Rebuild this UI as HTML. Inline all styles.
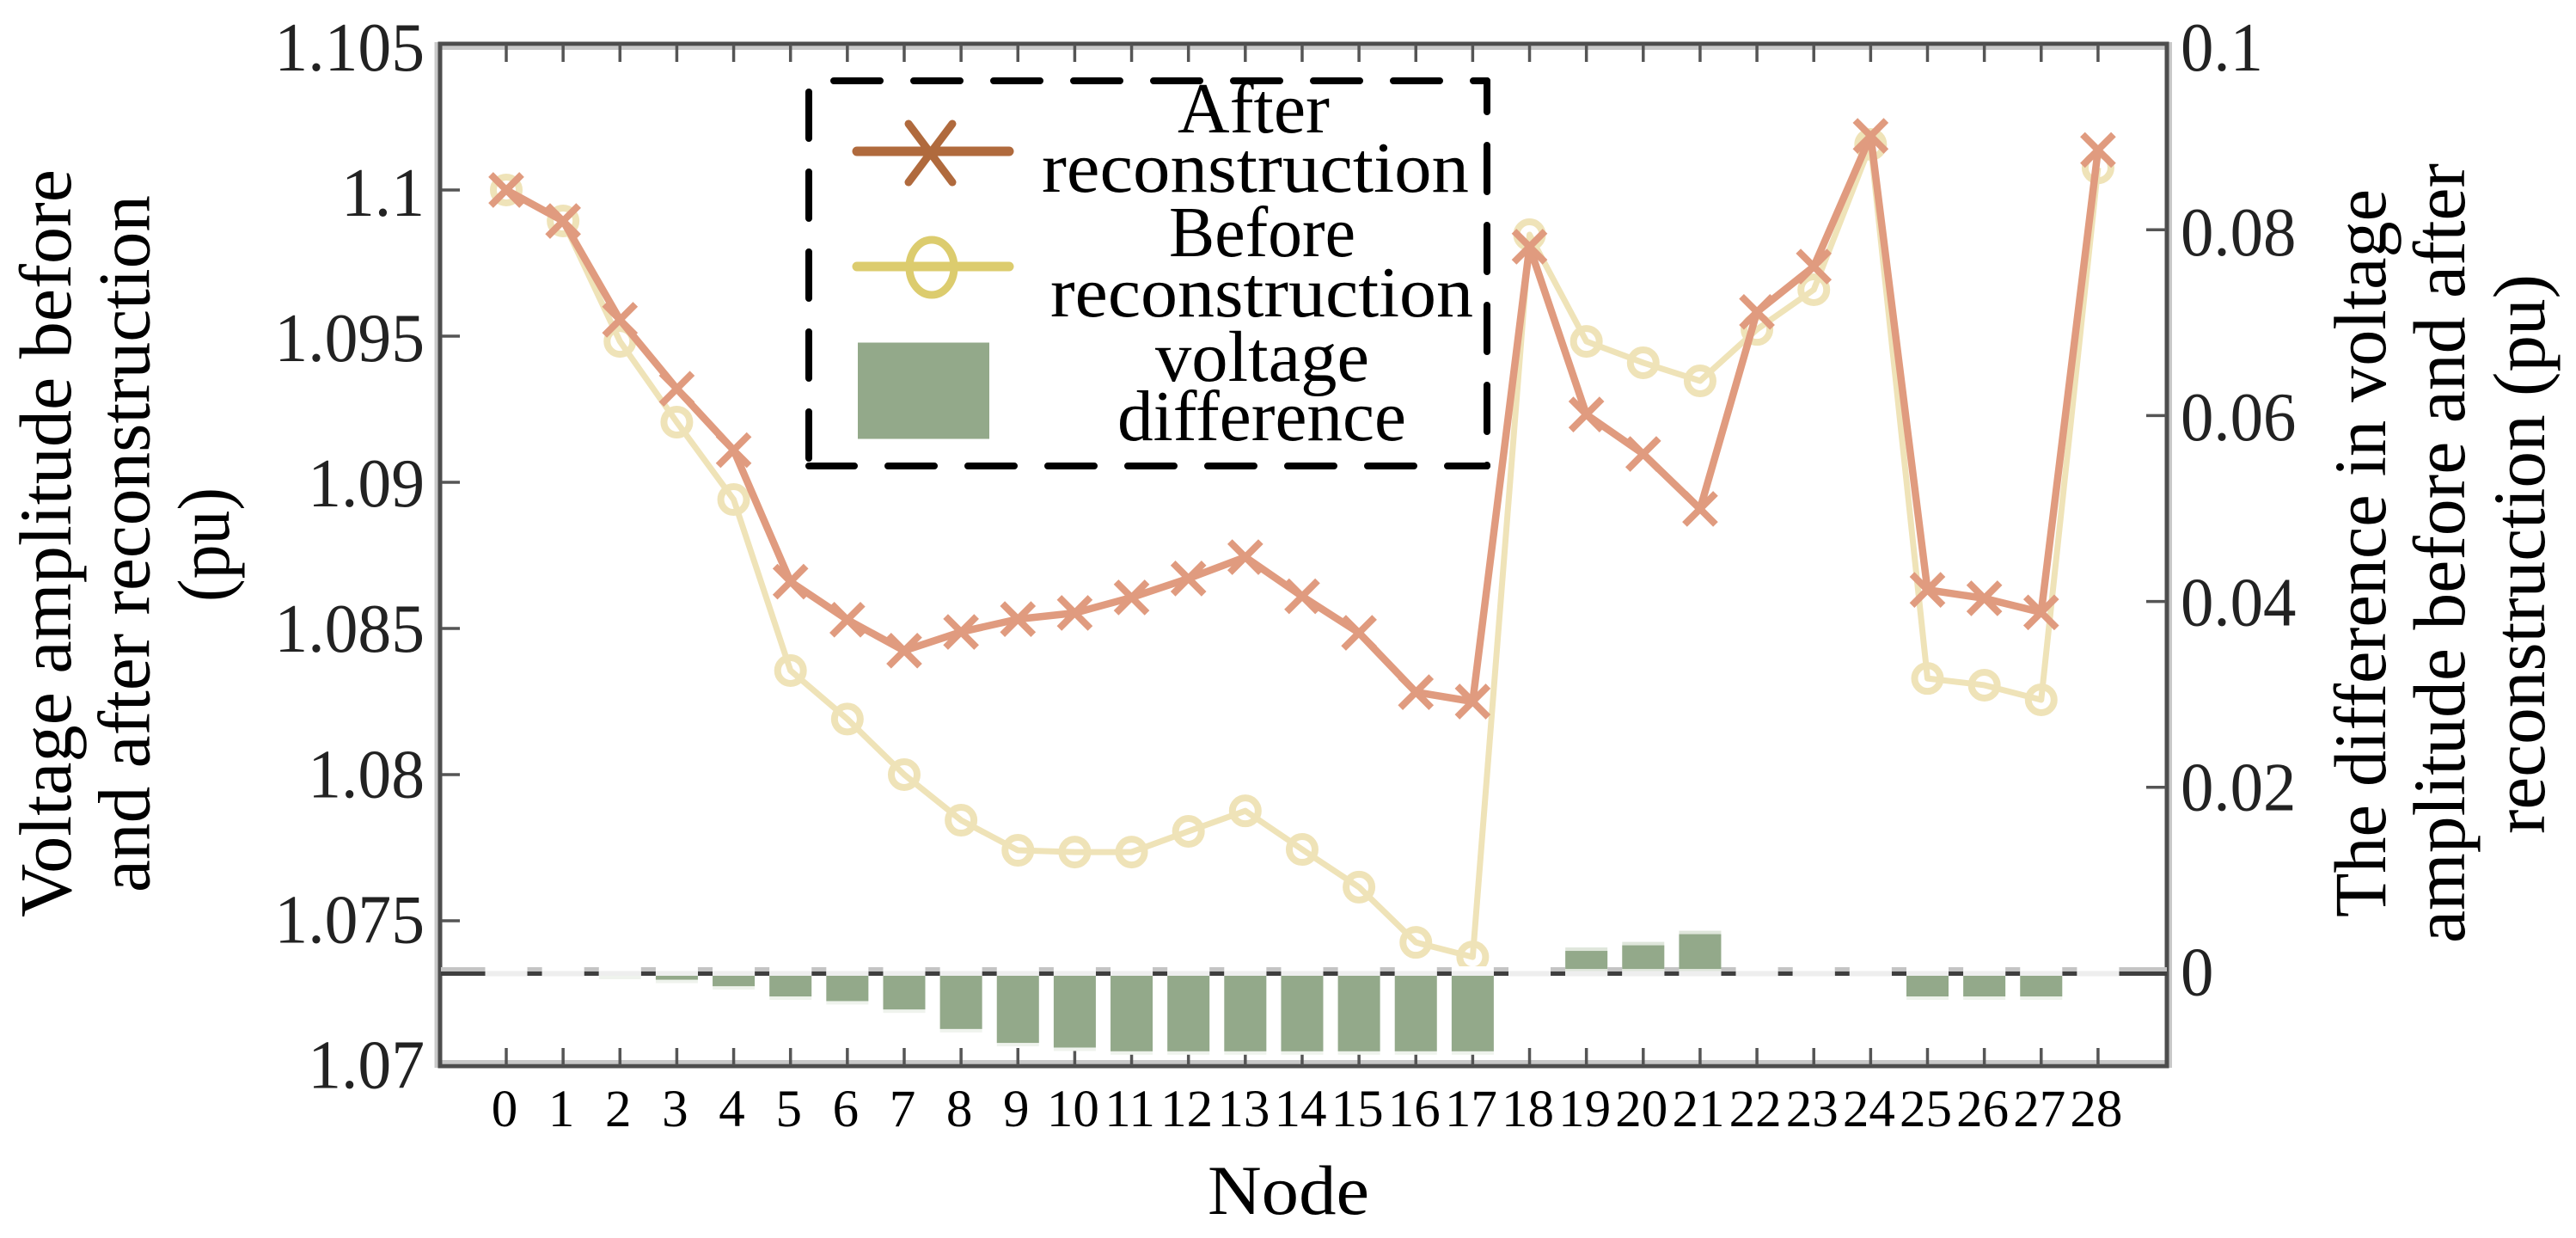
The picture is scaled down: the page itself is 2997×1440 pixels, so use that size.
<!DOCTYPE html>
<html lang="en">
<head>
<meta charset="utf-8">
<title>Voltage amplitude before and after reconstruction</title>
<style>
  html, body { margin: 0; padding: 0; background: #fff; }
  body { width: 2997px; height: 1440px; overflow: hidden; }
  svg { display: block; }
  text { font-family: "Liberation Serif", serif; fill: #000; }
</style>
</head>
<body>
<svg id="chart" xmlns="http://www.w3.org/2000/svg" width="2997" height="1440" viewBox="0 0 2997 1440">
  <rect x="0" y="0" width="2997" height="1440" fill="#ffffff"/>

  <g id="frame">
    <path d="M507.5 49V1242M509 56H2521M509 1235H2521M2525 49V1242" fill="none" stroke="#c8c8c8" stroke-width="4"/>
    <rect x="512" y="51" width="2009" height="1189" fill="none" stroke="#4d4d4d" stroke-width="5"/>
  </g>
  <g id="ticks"></g>
  <g id="tick-labels"></g>
  <g id="series-before"></g>
  <g id="series-after"></g>
  <line x1="513" y1="1127.5" x2="2521" y2="1127.5" stroke="#c4c4c4" stroke-width="5"/>
  <line x1="513" y1="1132.5" x2="2521" y2="1132.5" stroke="#3f3f3f" stroke-width="5"/>
  <g id="bars"></g>

  <text x="1405" y="1412" font-size="82" textLength="188" lengthAdjust="spacingAndGlyphs">Node</text>

  <g font-size="86">
    <text transform="translate(82 1067) rotate(-90)" textLength="870" lengthAdjust="spacingAndGlyphs">Voltage amplitude before</text>
    <text transform="translate(173.5 1038) rotate(-90)" textLength="811" lengthAdjust="spacingAndGlyphs">and after reconstruction</text>
    <text transform="translate(266 700) rotate(-90)" textLength="133" lengthAdjust="spacingAndGlyphs">(pu)</text>
  </g>
  <g font-size="86">
    <text transform="translate(2775 1067) rotate(-90)" textLength="847" lengthAdjust="spacingAndGlyphs">The difference in voltage</text>
    <text transform="translate(2867 1097) rotate(-90)" textLength="907" lengthAdjust="spacingAndGlyphs">amplitude before and after</text>
    <text transform="translate(2960 970) rotate(-90)" textLength="651" lengthAdjust="spacingAndGlyphs">reconstruction (pu)</text>
  </g>

  <g>
    <g fill="none" stroke="#000" stroke-width="8" stroke-linecap="round" stroke-dasharray="54 39">
      <line x1="941" y1="94" x2="1730" y2="94" stroke-dashoffset="-29"/>
      <line x1="1730" y1="94" x2="1730" y2="542" stroke-dashoffset="-75"/>
      <line x1="941" y1="542" x2="1730" y2="542" stroke-dashoffset="-92"/>
      <line x1="941" y1="94" x2="941" y2="542" stroke-dashoffset="-13"/>
    </g>
    <g>
      <line x1="997" y1="176" x2="1174" y2="176" stroke="#b06a3d" stroke-width="11" stroke-linecap="round"/>
      <path d="M1057 144L1108 212M1108 144L1057 212" fill="none" stroke="#b06a3d" stroke-width="9" stroke-linecap="round"/>
      <text x="1370" y="154" font-size="84" textLength="177" lengthAdjust="spacingAndGlyphs">After</text>
      <text x="1212" y="223" font-size="84" textLength="497" lengthAdjust="spacingAndGlyphs">reconstruction</text>
    </g>
    <g>
      <line x1="997" y1="310" x2="1174" y2="310" stroke="#dccc6e" stroke-width="11" stroke-linecap="round"/>
      <ellipse cx="1084" cy="311" rx="26" ry="32" fill="none" stroke="#dccc6e" stroke-width="9"/>
      <text x="1360" y="298" font-size="84" textLength="217" lengthAdjust="spacingAndGlyphs">Before</text>
      <text x="1222" y="368" font-size="84" textLength="492" lengthAdjust="spacingAndGlyphs">reconstruction</text>
    </g>
    <g>
      <rect x="998" y="398.5" width="153" height="112" fill="#93a98a"/>
      <text x="1344" y="443" font-size="84" textLength="249" lengthAdjust="spacingAndGlyphs">voltage</text>
      <text x="1300" y="512" font-size="84" textLength="336" lengthAdjust="spacingAndGlyphs">difference</text>
    </g>
  </g>
</svg>

<script>
const nodes = [0,1,2,3,4,5,6,7,8,9,10,11,12,13,14,15,16,17,18,19,20,21,22,23,24,25,26,27,28];
const afterValues = [1.1,1.09894,1.09556,1.0932,1.0911,1.0866,1.0853,1.08424,1.08488,1.08532,1.08553,1.08606,1.08671,1.08744,1.0861,1.08485,1.08282,1.0825,1.09806,1.09232,1.09097,1.08909,1.09583,1.09738,1.10185,1.08632,1.08603,1.08555,1.10137];
const beforeValues = [1.1,1.09894,1.09482,1.09206,1.08941,1.08356,1.0819,1.08,1.07844,1.07741,1.07735,1.07735,1.07806,1.07876,1.07744,1.07615,1.07426,1.07376,1.09847,1.09482,1.09409,1.09347,1.09523,1.09659,1.10156,1.08329,1.08306,1.08256,1.10076];
const differenceValues = [0,0,-0.0002,-0.0007,-0.0014,-0.0025,-0.003,-0.0039,-0.006,-0.0075,-0.008,-0.0084,-0.0084,-0.0084,-0.0084,-0.0084,-0.0084,-0.0084,0,0.0024,0.003,0.0042,0,0,0,-0.0025,-0.0025,-0.0025,0];
const leftTickValues = [1.105,1.1,1.095,1.09,1.085,1.08,1.075,1.07];
const rightTickValues = [0.1,0.08,0.06,0.04,0.02,0];

const SVGNS = 'http://www.w3.org/2000/svg';
const xAt = i => 589 + i * 66.14;
const yLeft = v => 221 + (1.1 - v) * 34000;
const yRight = v => 1132 - v * 10810;
const yLeftLabel = v => 82 + (1.105 - v) * 33811;
const yRightLabel = v => 1157.6 - v * 10756;

function mk(tag, attrs, parent) {
  const el = document.createElementNS(SVGNS, tag);
  for (const k in attrs) el.setAttribute(k, attrs[k]);
  parent.appendChild(el);
  return el;
}

const tickG = document.getElementById('ticks');
const labelG = document.getElementById('tick-labels');
const beforeG = document.getElementById('series-before');
const afterG = document.getElementById('series-after');
const barG = document.getElementById('bars');
const tickStyle = { stroke: '#555555', 'stroke-width': 3.5 };

nodes.forEach((n, i) => {
  const x = xAt(i);
  const top = mk('line', { x1: x, y1: 52, x2: x, y2: 72, ...tickStyle }, tickG);
  
  
  const bottom = mk('line', { x1: x, y1: 1219, x2: x, y2: 1239, ...tickStyle }, tickG);
  
  
  const label = mk('text', { x: x - 2, y: 1310, 'text-anchor': 'middle', 'font-size': 61 }, labelG);
  label.textContent = String(n);
  
  
});

leftTickValues.forEach(v => {
  if (v < 1.105 && v > 1.07) {
    const t = mk('line', { x1: 514, y1: yLeft(v), x2: 535, y2: yLeft(v), ...tickStyle }, tickG);
    
    
  }
  const label = mk('text', { transform: 'translate(494 ' + yLeftLabel(v) + ') scale(0.97 1)', 'text-anchor': 'end', 'font-size': 80, style: 'fill:#222' }, labelG);
  label.textContent = String(v);
  
  
});

rightTickValues.forEach(v => {
  if (v > 0 && v < 0.1) {
    const t = mk('line', { x1: 2497, y1: yRight(v), x2: 2520, y2: yRight(v), ...tickStyle }, tickG);
    
    
  }
  const label = mk('text', { transform: 'translate(2537 ' + yRightLabel(v) + ') scale(0.96 1)', 'font-size': 80, style: 'fill:#222' }, labelG);
  label.textContent = String(v);
  
  
});

const BEFORE = '#efe3b8';
const AFTER = '#e09b7f';

const beforeLine = mk('polyline', { points: beforeValues.map((v, i) => xAt(i) + ',' + yLeft(v)).join(' '), fill: 'none', stroke: BEFORE, 'stroke-width': 7, 'stroke-linejoin': 'round' }, beforeG);


beforeValues.forEach((v, i) => {
  const c = mk('circle', { cx: xAt(i), cy: yLeft(v), r: 15, fill: 'none', stroke: BEFORE, 'stroke-width': 8 }, beforeG);
  
  
});

const afterLine = mk('polyline', { points: afterValues.map((v, i) => xAt(i) + ',' + yLeft(v)).join(' '), fill: 'none', stroke: AFTER, 'stroke-width': 8.5, 'stroke-linejoin': 'round' }, afterG);


afterValues.forEach((v, i) => {
  const x = xAt(i), y = yLeft(v), h = 18;
  const m = mk('path', { d: 'M' + (x - h) + ' ' + (y - h) + 'L' + (x + h) + ' ' + (y + h) + 'M' + (x + h) + ' ' + (y - h) + 'L' + (x - h) + ' ' + (y + h), fill: 'none', stroke: AFTER, 'stroke-width': 8 }, afterG);
  
  
});

const BAR_W = 49;
differenceValues.forEach((v, i) => {
  const x0 = xAt(i) - BAR_W / 2;
  const yv = yRight(v);
  const band = mk('rect', { x: x0, y: 1124, width: BAR_W, height: 11.5, fill: '#ffffff' }, barG);
  
  
  const zero = mk('rect', { x: x0, y: 1129.5, width: BAR_W, height: 6, fill: '#eeeeee' }, barG);
  
  
  if (v < 0) {
    const halo = mk('rect', { x: x0, y: 1135, width: BAR_W, height: Math.max(0, yv - 1135) + 4, fill: '#eff3ed' }, barG);
    
    
    if (yv > 1135) {
      const bar = mk('rect', { x: x0, y: 1135, width: BAR_W, height: yv - 1135, fill: '#93a98a' }, barG);
      
      
    }
  } else if (v > 0) {
    const halo = mk('rect', { x: x0, y: yv - 4, width: BAR_W, height: 1129.5 - yv + 4, fill: '#dfe6db' }, barG);
    
    
    const bar = mk('rect', { x: x0, y: yv, width: BAR_W, height: 1127 - yv, fill: '#93a98a' }, barG);
    
    
  }
});
</script>
</body>
</html>
